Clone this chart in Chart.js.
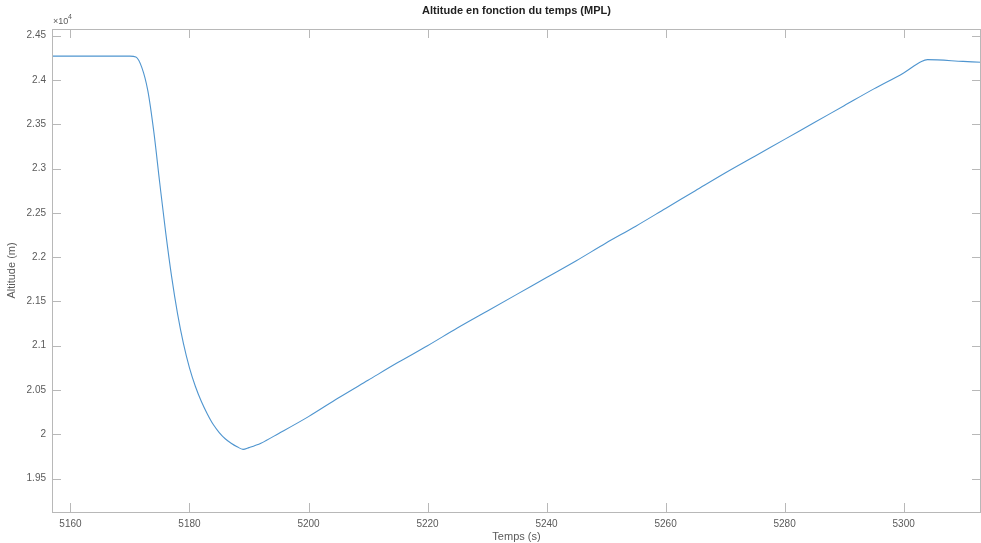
<!DOCTYPE html>
<html>
<head>
<meta charset="utf-8">
<script src="https://cdn.jsdelivr.net/npm/chart.js@4.4.1/dist/chart.umd.min.js"></script>
<style>
  html, body { margin: 0; padding: 0; background: #fff; }
  #wrap { width: 981px; height: 543px; }
</style>
</head>
<body>
<div id="wrap"><canvas id="altChart"></canvas></div>
<script>
// temps (s) et altitude (x10^4 m)
const times = [5157, 5160, 5165, 5170, 5171, 5172, 5173, 5174, 5175, 5176, 5177, 5178, 5179, 5180,
    5181, 5182, 5183, 5184, 5185, 5186, 5187, 5188, 5189, 5190, 5192, 5195, 5200, 5205, 5210,
    5215, 5220, 5225, 5230, 5235, 5240, 5245, 5250, 5255, 5260, 5265, 5270, 5275, 5280, 5285,
    5290, 5295, 5300, 5303, 5304, 5310, 5313];
const altitude = [2.427, 2.427, 2.427, 2.427, 2.426, 2.414, 2.388, 2.342, 2.284, 2.228, 2.178, 2.136,
    2.102, 2.075, 2.054, 2.037, 2.023, 2.011, 2.002, 1.995, 1.990, 1.986, 1.983, 1.985, 1.990,
    2.001, 2.020, 2.041, 2.061, 2.081, 2.100, 2.120, 2.139, 2.158, 2.177, 2.196, 2.216, 2.235,
    2.255, 2.275, 2.295, 2.314, 2.333, 2.352, 2.371, 2.390, 2.408, 2.421, 2.423, 2.421, 2.420];
const xTicks = [5160, 5180, 5200, 5220, 5240, 5260, 5280, 5300];
const yTicks = [1.95, 2, 2.05, 2.1, 2.15, 2.2, 2.25, 2.3, 2.35, 2.4, 2.45];

const axisColor = '#b8b8b8';
const textColor = '#5a5a5a';
const fontFam = '"Liberation Sans", Arial, sans-serif';

// cadre + graduations vers l'intérieur + textes façon MATLAB
const matlabAxes = {
    id: 'matlabAxes',
    afterDraw(chart) {
        const ctx = chart.ctx;
        const a = chart.chartArea;
        const xs = chart.scales.x, ys = chart.scales.y;
        ctx.save();
        ctx.strokeStyle = axisColor;
        ctx.lineWidth = 1;
        ctx.strokeRect(a.left + 0.5, a.top + 0.5, a.right - a.left - 1, a.bottom - a.top);
        ctx.beginPath();
        xTicks.forEach(v => {
            const px = Math.round(xs.getPixelForValue(v)) + 0.5;
            ctx.moveTo(px, a.bottom); ctx.lineTo(px, a.bottom - 9);
            ctx.moveTo(px, a.top); ctx.lineTo(px, a.top + 9);
        });
        yTicks.forEach(v => {
            const py = Math.round(ys.getPixelForValue(v)) + 0.5;
            ctx.moveTo(a.left, py); ctx.lineTo(a.left + 9, py);
            ctx.moveTo(a.right, py); ctx.lineTo(a.right - 9, py);
        });
        ctx.stroke();

        ctx.fillStyle = '#222';
        ctx.font = 'bold 11px ' + fontFam;
        ctx.textAlign = 'center';
        ctx.textBaseline = 'middle';
        ctx.fillText('Altitude en fonction du temps (MPL)', (a.left + a.right) / 2, 11);

        ctx.fillStyle = textColor;
        ctx.font = '11px ' + fontFam;
        ctx.fillText('Temps (s)', (a.left + a.right) / 2, 537);

        ctx.save();
        ctx.translate(12, (a.top + a.bottom) / 2);
        ctx.rotate(-Math.PI / 2);
        ctx.fillText('Altitude (m)', 0, 0);
        ctx.restore();

        ctx.textAlign = 'left';
        ctx.font = '9px ' + fontFam;
        ctx.fillText('\u00d710', 53, 22);
        ctx.font = '7px ' + fontFam;
        ctx.fillText('4', 68, 17);
        ctx.restore();
    }
};

new Chart(document.getElementById('altChart'), {
    type: 'line',
    data: {
        labels: times,
        datasets: [{
            data: times.map((t, i) => ({ x: t, y: altitude[i] })),
            borderColor: '#4f95cf',
            borderWidth: 1.1,
            pointRadius: 0,
            cubicInterpolationMode: 'monotone',
            fill: false
        }]
    },
    options: {
        responsive: true,
        maintainAspectRatio: false,
        animation: false,
        layout: { padding: { top: 29, right: 0, left: 0, bottom: 0 } },
        plugins: {
            legend: { display: false },
            tooltip: { enabled: false },
            title: { display: false }
        },
        scales: {
            x: {
                type: 'linear',
                min: 5156.9,
                max: 5313,
                afterBuildTicks: s => { s.ticks = xTicks.map(v => ({ value: v })); },
                afterFit: s => { s.height = 31; },
                grid: { display: false, drawTicks: false },
                border: { display: false },
                ticks: {
                    color: textColor,
                    font: { family: fontFam, size: 10 },
                    padding: 6,
                    maxRotation: 0,
                    callback: v => String(v)
                }
            },
            y: {
                type: 'linear',
                min: 1.9123,
                max: 2.4576,
                afterBuildTicks: s => { s.ticks = yTicks.map(v => ({ value: v })); },
                afterFit: s => { s.width = 52; },
                grid: { display: false, drawTicks: false },
                border: { display: false },
                ticks: {
                    color: textColor,
                    font: { family: fontFam, size: 10 },
                    padding: 6,
                    callback: v => String(+v.toFixed(2))
                }
            }
        }
    },
    plugins: [matlabAxes]
});
</script>
</body>
</html>
